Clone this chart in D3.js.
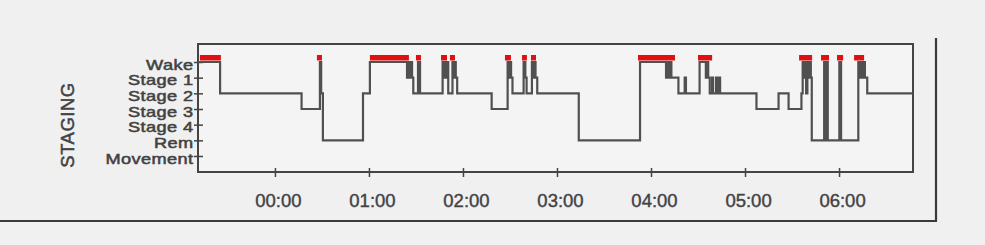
<!DOCTYPE html>
<html>
<head>
<meta charset="utf-8">
<script src="https://cdn.jsdelivr.net/npm/d3@7"></script>
<style>
  html, body { margin: 0; padding: 0; background: #f0f0f0; }
  svg { display: block; }
  text { font-family: "Liberation Sans", Arial, sans-serif; }
</style>
</head>
<body>
<svg id="chart" width="985" height="245"></svg>
<script>
// ---------- DATA ----------
// Stage names, top to bottom (index = level)
const stageLabels = ["Wake", "Stage 1", "Stage 2", "Stage 3", "Stage 4", "Rem", "Movement"];

// Recording window, minutes relative to midnight
const recordStart = -49.1;
const recordEnd = 407.2;

// Hypnogram: time of each stage change (minutes from midnight) and the stage index entered
const changeTimes = [
  -49.1, -35, 17, 28.7, 29.5, 30.6, 56.2, 60.6,
  84.3, 85.2, 86.0, 86.8, 87.5, 88.3, 91.3, 92.6,
  107.0, 107.8, 108.5, 109.3, 110.0, 110.6,
  113.3, 114.0, 114.7, 115.4, 116.3,
  138.3, 148.5, 149.2, 149.9, 150.7, 151.6,
  158.7, 159.8, 160.6,
  164.0, 164.8, 165.5, 166.3, 167.4,
  193.9, 233.0, 249.6, 250.5, 251.3, 252.2, 253.0, 254.0, 257.5,
  261.5, 262.3, 271.0, 275.0, 275.8, 276.5, 277.5, 279.0, 279.6,
  281.5, 282.1, 283.5, 284.1,
  307.3, 321.4, 327.8, 336.0, 336.8, 337.5, 338.3, 339.0, 339.8,
  340.5, 341.2, 342.0, 342.6,
  350.5, 351.3, 352.0, 352.8,
  360.2, 361.3,
  372.3, 373.5, 374.2, 375.0, 375.7, 376.5, 378.0
];
const stageValues = [
  0, 2, 3, 0, 2, 5, 2, 0,
  1, 0, 1, 0, 1, 2, 0, 2,
  0, 1, 0, 1, 0, 2,
  0, 1, 0, 1, 2,
  3, 0, 1, 0, 1, 2,
  0, 1, 2,
  0, 1, 0, 1, 2,
  5, 0, 1, 0, 1, 0, 1, 1, 2,
  1, 2, 0, 1, 0, 1, 2, 1, 2,
  1, 2, 1, 2,
  3, 2, 3, 2, 0, 1, 0, 2, 0,
  1, 0, 1, 5,
  0, 5, 0, 5,
  0, 5,
  0, 1, 0, 1, 0, 1, 2
];

// Red wake markers: start / end (minutes from midnight)
const wakeMarkStart = [-47.9, 26.8, 60.6, 90.0, 106.0, 111.7, 146.8, 157.7, 163.4, 231.7, 270.0, 334.5, 348.5, 358.7, 369.6];
const wakeMarkEnd   = [-34.5, 30.0, 85.5, 93.2, 109.8, 114.9, 150.6, 160.8, 166.6, 255.3, 279.0, 342.8, 353.6, 362.6, 376.0];

// Hour ticks (minutes from midnight) and their labels
const hourTicks = [0, 60, 120, 180, 240, 300, 360];
const tickLabels = ["00:00", "01:00", "02:00", "03:00", "04:00", "05:00", "06:00"];

const axisTitle = "STAGING";

// ---------- DRAWING ----------
const base = new Date(2000, 0, 2, 0, 0, 0).getTime();
const toDate = m => new Date(base + m * 60000);

const svg = d3.select("#chart");
const plot = { left: 198, right: 913, top: 44, bottom: 172 };

const x = d3.scaleTime()
  .domain([toDate(recordStart), toDate(recordEnd)])
  .range([plot.left, plot.right]);
const y = d3.scaleLinear()
  .domain([0, stageLabels.length - 1])
  .range([62, 156]);

const ink = "#444";
const textInk = "#424242";

// outer page frame (scan edges)
svg.append("line").attr("x1", 936).attr("x2", 936).attr("y1", 38).attr("y2", 221)
  .attr("stroke", "#3a3a3a").attr("stroke-width", 2.2);
svg.append("line").attr("x1", 0).attr("x2", 937).attr("y1", 221).attr("y2", 221)
  .attr("stroke", "#3a3a3a").attr("stroke-width", 2);

// plot frame
svg.append("rect")
  .attr("x", plot.left).attr("y", plot.top)
  .attr("width", plot.right - plot.left).attr("height", plot.bottom - plot.top)
  .attr("fill", "#f4f4f4").attr("stroke", "#444").attr("stroke-width", 2);

// y axis (stage labels), ticks crossing the axis
const yAxis = d3.axisLeft(y)
  .tickValues(d3.range(stageLabels.length))
  .tickFormat(i => stageLabels[i])
  .tickSize(0)
  .tickPadding(3.5);
const gy = svg.append("g").attr("transform", `translate(${plot.left},0)`).call(yAxis);
gy.select(".domain").remove();
gy.selectAll(".tick text")
  .attr("fill", textInk)
  .attr("font-size", 14)
  .attr("letter-spacing", 0.3)
  .attr("transform", "scale(1.3,1)")
  .attr("stroke", textInk).attr("stroke-width", 0.5)
  .attr("dy", "0.5em");
gy.selectAll(".tick").append("line")
  .attr("x1", -4).attr("x2", 5)
  .attr("stroke", ink).attr("stroke-width", 1.5);

// x axis (hours), ticks crossing bottom axis
const xAxis = d3.axisBottom(x)
  .tickValues(hourTicks.map(toDate))
  .tickFormat((d, i) => tickLabels[i])
  .tickSize(0)
  .tickPadding(0);
const gx = svg.append("g").attr("transform", `translate(0,${plot.bottom})`).call(xAxis);
gx.select(".domain").remove();
gx.selectAll(".tick text")
  .attr("fill", textInk)
  .attr("font-size", 18.5)
  .attr("stroke", textInk).attr("stroke-width", 0.4)
  .attr("dx", 3)
  .attr("y", 35).attr("dy", 0);
gx.selectAll(".tick").append("line")
  .attr("y1", -4).attr("y2", 5)
  .attr("stroke", ink).attr("stroke-width", 1.5);

// axis title
svg.append("text")
  .attr("transform", "translate(74,125) rotate(-90)")
  .attr("text-anchor", "middle")
  .attr("font-size", 18.5)
  .attr("fill", textInk)
  .attr("stroke", textInk).attr("stroke-width", 0.5)
  .attr("letter-spacing", 0.5)
  .text(axisTitle);

// hypnogram step line
const pts = changeTimes.map((t, i) => [toDate(t), stageValues[i]]);
pts.push([toDate(recordEnd), stageValues[stageValues.length - 1]]);
const line = d3.line()
  .x(d => x(d[0]))
  .y(d => y(d[1]))
  .curve(d3.curveStepAfter);
svg.append("path")
  .datum(pts)
  .attr("d", line)
  .attr("fill", "none")
  .attr("stroke", "#505050")
  .attr("stroke-width", 2.2)
  .attr("stroke-linejoin", "miter");

// red wake markers
svg.append("g").selectAll("rect")
  .data(wakeMarkStart.map((s, i) => [s, wakeMarkEnd[i]]))
  .join("rect")
  .attr("x", d => x(toDate(d[0])))
  .attr("width", d => Math.max(3, x(toDate(d[1])) - x(toDate(d[0]))))
  .attr("y", y(0) - 7)
  .attr("height", 5.5)
  .attr("fill", "#e01010");
</script>
</body>
</html>
